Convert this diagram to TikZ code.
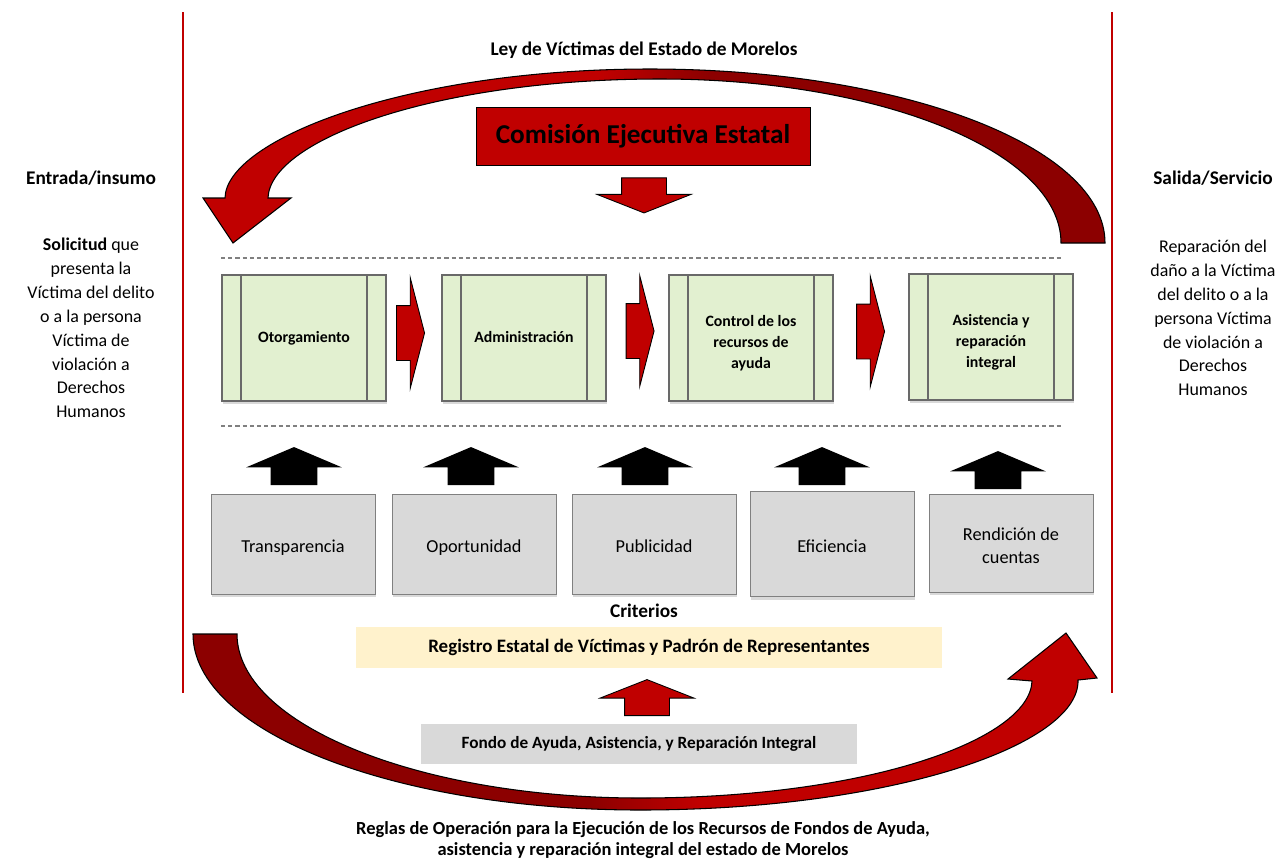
\documentclass[tikz,border=0pt]{standalone}
\usepackage{fontspec}
\setmainfont{Carlito}
\usetikzlibrary{shapes.arrows,shadows,calc}

\definecolor{rojo}{RGB}{192,0,0}
\definecolor{rojooscuro}{RGB}{140,0,0}
\definecolor{verdeproc}{RGB}{226,240,208}
\definecolor{grisbox}{RGB}{217,217,217}
\definecolor{amarillo}{RGB}{255,242,204}
\definecolor{bordegris}{RGB}{105,105,105}

\pgfdeclarehorizontalshading{arcosup}{100bp}{color(0bp)=(rojo); color(47bp)=(rojo); color(53bp)=(rojooscuro); color(100bp)=(rojooscuro)}
\pgfdeclarehorizontalshading{arcoinf}{100bp}{color(0bp)=(rojooscuro); color(47bp)=(rojooscuro); color(53bp)=(rojo); color(100bp)=(rojo)}

\tikzset{
  titulo/.style={font=\fontsize{11}{13.6}\selectfont\bfseries},
  texto/.style={align=center, font=\fontsize{10.2}{13.6}\selectfont},
  sombra/.style={drop shadow={shadow xshift=0.6pt, shadow yshift=-1.8pt, opacity=0.3}},
  proceso/.style={draw=bordegris, line width=0.9pt, fill=verdeproc, sombra,
    minimum width=3.28cm, minimum height=2.52cm, align=center,
    execute at begin node=\strut, execute at end node=\strut,
    font=\fontsize{9}{12}\selectfont\bfseries},
  criterio/.style={draw=gray, fill=grisbox, sombra, minimum width=3.28cm,
    minimum height=2cm, align=center, execute at begin node={\rule{0pt}{13.7pt}},
    execute at end node=\strut, font=\fontsize{10.4}{13}\selectfont},
  franja/.style={inner sep=0pt, font=\fontsize{10.8}{13}\selectfont\bfseries},
  flecharoja/.style={single arrow, draw=black, line width=0.5pt, fill=rojo},
  flechapaso/.style={flecharoja, minimum height=0.56cm, inner xsep=0pt, inner ysep=0.54cm,
    single arrow head extend=0.56cm, single arrow tip angle=151},
  flechavert/.style={flecharoja, minimum height=0.7cm, inner ysep=0pt, inner xsep=0.44cm,
    single arrow head extend=0.49cm, single arrow tip angle=137},
  flechanegra/.style={single arrow, fill=black, inner ysep=0pt, inner xsep=0.46cm,
    shape border rotate=90, minimum height=0.76cm, single arrow head extend=0.49cm,
    single arrow tip angle=134},
  guiones/.style={gray, line width=0.6pt, dash pattern=on 2.4pt off 1.7pt}
}

\begin{document}
\begin{tikzpicture}[x=0.02cm, y=-0.02cm]
    \useasboundingbox (0,0) rectangle (1283,859);

    % Líneas laterales
    \draw[rojo, line width=1.1pt] (183,12) -- (183,693);
    \draw[rojo, line width=1.1pt] (1112,12) -- (1112,693);

    % Entrada y salida
    \node[titulo] (entrada) at (91,178) {Entrada/insumo};
    \node[texto] (solicitud) at (91,328) {\textbf{Solicitud} que\\presenta la\\Víctima del delito\\o a la persona\\Víctima de\\violación a\\Derechos\\Humanos};
    \node[titulo] (salida) at (1213,178) {Salida/Servicio};
    \node[texto] (reparacion) at (1213,318) {Reparación del\\daño a la Víctima\\del delito o a la\\persona Víctima\\de violación a\\Derechos\\Humanos};

    % Ley
    \node[titulo] (ley) at (644,50) {Ley de Víctimas del Estado de Morelos};

    % Arco superior
    \shadedraw[shading=arcosup, line width=0.6pt] (1105,243) .. controls (1105,146) and (901,69) .. (650,69)
        .. controls (405,69) and (226,140) .. (225,198) -- (203,198) -- (233,243) -- (291,198) -- (268,198)
        .. controls (270,140) and (435,79) .. (660,79) .. controls (881,79) and (1061,152) .. (1061,243) -- cycle;

    % Comisión
    \node[draw=black, line width=0.5pt, fill=rojo, minimum width=6.68cm, minimum height=1.16cm,
        font=\fontsize{15.5}{18}\selectfont\bfseries] (cee) at (643,136) {Comisión Ejecutiva Estatal};
    \node[flechavert, shape border rotate=270] (fcee) at (644,191) {};

    % Líneas punteadas
    \draw[guiones] (221,258) -- (1062,258);
    \draw[guiones] (221,426) -- (1062,426);

    % Procesos
    \node[proceso] (otorg) at (304,338) {Otorgamiento};
    \node[proceso] (admin) at (524,338) {Administración};
    \node[proceso] (control) at (751,338) {\rule{0pt}{14pt}Control de los\\recursos de\\ayuda};
    \node[proceso] (asist) at (991,337) {\rule{0pt}{14pt}Asistencia y\\reparación\\integral};
    \foreach \n in {otorg,admin,control,asist} {
        \draw[bordegris, line width=0.9pt] ([xshift=0.4cm]\n.north west) -- ([xshift=0.4cm]\n.south west);
        \draw[bordegris, line width=0.9pt] ([xshift=-0.4cm]\n.north east) -- ([xshift=-0.4cm]\n.south east);
    }
    \node[flechapaso] (f1) at ($(otorg.east)!0.5!(admin.west)+(-7,-5)$) {};
    \node[flechapaso] (f2) at ($(admin.east)!0.5!(control.west)+(-1,-7)$) {};
    \node[flechapaso] (f3) at ($(control.east)!0.5!(asist.west)+(-4,-6)$) {};

    % Criterios
    \node[criterio] (transp) at (293,544) {Transparencia};
    \node[criterio] (oport) at (474,544) {Oportunidad};
    \node[criterio] (public) at (654,544) {Publicidad};
    \node[criterio, minimum height=2.1cm] (efic) at (832,544) {Eficiencia};
    \node[criterio, minimum height=1.96cm] (rend) at (1011,543) {\rule{0pt}{13.7pt}Rendición de\\cuentas};
    \foreach \x/\y [count=\i] in {294/471, 471/471, 645/471, 822/471, 998/475}
        \node[flechanegra] (fn\i) at (\x,\y) {};
    \node[titulo] (crit) at (644,611) {Criterios};

    % Registro y fondo
    \node[franja, fill=amarillo, minimum width=11.74cm, minimum height=0.82cm] (registro) at (649,647) {Registro Estatal de Víctimas y Padrón de Representantes};
    \node[flechavert, shape border rotate=90, minimum height=0.72cm] (freg) at (647,702) {};
    \node[franja, fill=grisbox, minimum width=8.72cm, minimum height=0.8cm,
        font=\fontsize{9.8}{12}\selectfont\bfseries] (fondo) at (639,744) {Fondo de Ayuda, Asistencia, y Reparación Integral};

    % Arco inferior
    \shadedraw[shading=arcoinf, line width=0.6pt] (193,634) .. controls (193,731) and (393,810) .. (640,810)
        .. controls (891,810) and (1080,745) .. (1078,680) -- (1097,678) -- (1066,633) -- (1008,679) -- (1032,681)
        .. controls (1030,740) and (866,798) .. (640,798) .. controls (418,798) and (237,724) .. (237,634) -- cycle;

    % Reglas
    \node[titulo, align=center, font=\fontsize{10.5}{12}\selectfont\bfseries] (reglas) at (643,840) {Reglas de Operación para la Ejecución de los Recursos de Fondos de Ayuda,\\asistencia y reparación integral del estado de Morelos};
\end{tikzpicture}
\end{document}
